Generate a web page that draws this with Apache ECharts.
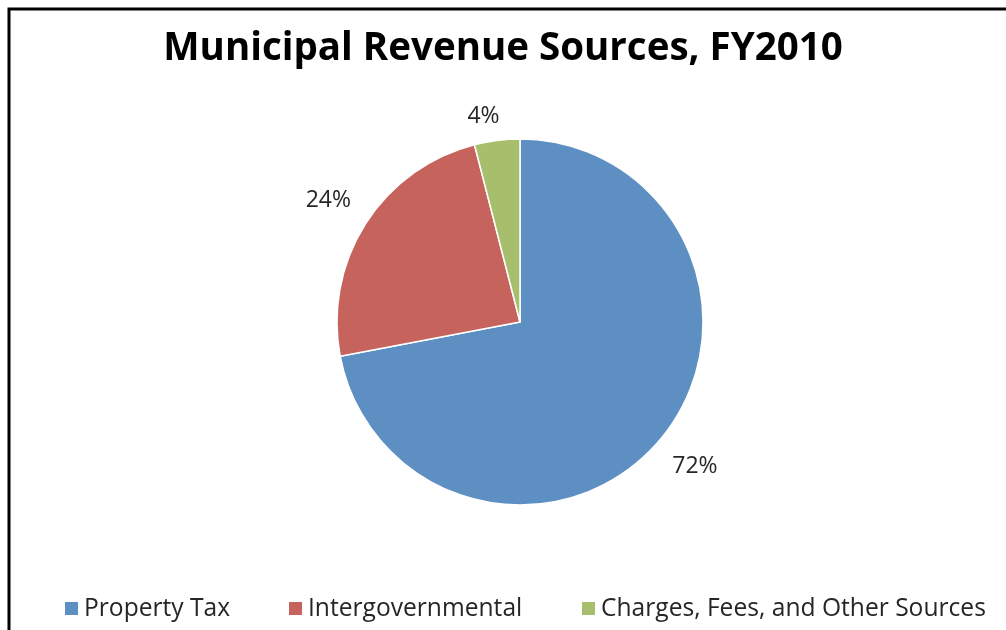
<!DOCTYPE html>
<html><head><meta charset="utf-8">
<script src="https://cdn.jsdelivr.net/npm/echarts@6/dist/echarts.min.js"></script>
<style>html,body{margin:0;padding:0;background:#fff}#c{width:1006px;height:630px}</style>
</head><body><div id="c"></div>
<script>
const categories = ['Property Tax', 'Intergovernmental', 'Charges, Fees, and Other Sources'];
const values = [72, 24, 4];
const colors = ['#5e8fc3', '#c6635c', '#a7bf6c'];
const legendLeft = [63, 287, 580];
const FONT = '"Open Sans", Lato, sans-serif';

const chart = echarts.init(document.getElementById('c'), null, {renderer: 'canvas'});
const data = categories.map((n, i) => ({name: n, value: values[i], itemStyle: {color: colors[i]}}));
const labelData = categories.map((n, i) => {
  const d = {name: n, value: values[i]};
  if (i === 2) d.label = {offset: [-8, 20]};
  return d;
});
chart.setOption({
  animation: false,
  title: {
    text: 'Municipal Revenue Sources, FY2010',
    left: 'center', top: 25,
    textStyle: {fontFamily: FONT, fontWeight: 'bold', fontSize: 38.5, color: '#000'}
  },
  graphic: [{
    type: 'rect', shape: {x: 9, y: 9, width: 1100, height: 800},
    style: {fill: 'none', stroke: '#000', lineWidth: 3}, silent: true
  }],
  legend: categories.map((n, i) => ({
    data: [n], left: legendLeft[i], top: 596, padding: 0, itemWidth: 15, itemHeight: 15, itemGap: 7,
    icon: 'rect', textStyle: {fontFamily: FONT, fontSize: 24.6, color: '#262626'}, selectedMode: false
  })),
  series: [{
    type: 'pie', center: [520, 322], radius: 183, startAngle: 90, clockwise: true,
    data: data, label: {show: false}, labelLine: {show: false},
    itemStyle: {borderColor: '#fff', borderWidth: 1.5}, silent: true
  }, {
    type: 'pie', center: [520, 322], radius: [202, 246], startAngle: 90, clockwise: true,
    data: labelData, silent: true, legendHoverLink: false,
    itemStyle: {color: 'rgba(0,0,0,0)'},
    label: {show: true, position: 'inside', formatter: '{c}%', fontFamily: FONT, fontSize: 23, color: '#262626'},
    labelLine: {show: false}
  }]
});
</script></body></html>
